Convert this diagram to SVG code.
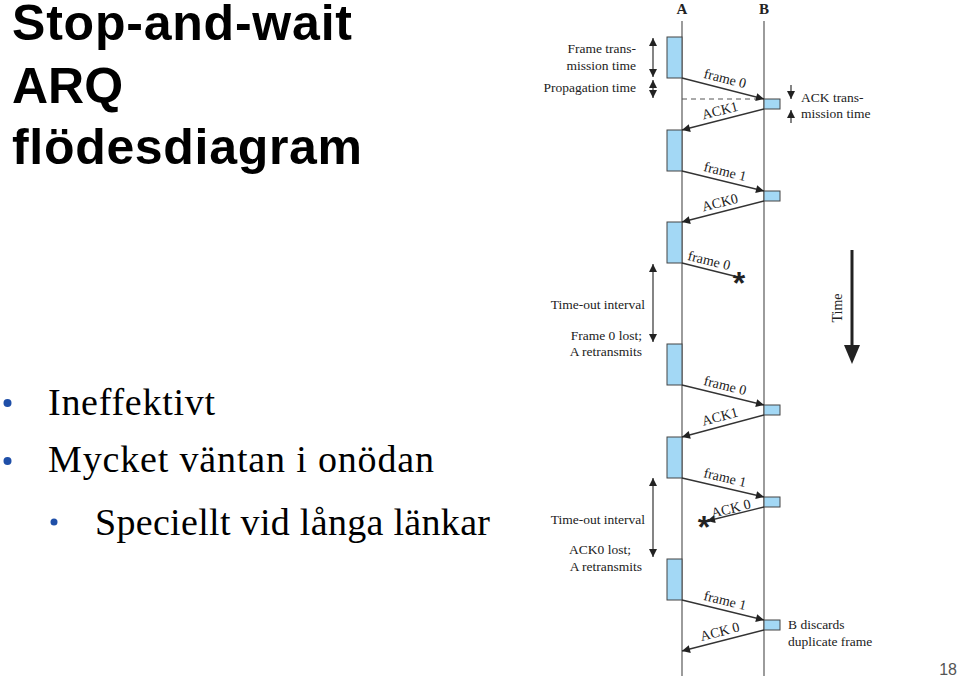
<svg xmlns="http://www.w3.org/2000/svg" width="960" height="678" viewBox="0 0 960 678">
<defs>
<style>
.title{font-family:"Liberation Sans",Arial,sans-serif;font-weight:bold;font-size:50px;fill:#000}
.bul{font-family:"Liberation Serif","Times New Roman",serif;font-size:38px;fill:#000}
.lbl{font-family:"Liberation Serif","Times New Roman",serif;font-size:13.5px;fill:#222}
.lblr{font-family:"Liberation Serif","Times New Roman",serif;font-size:13.5px;fill:#222;text-anchor:end}
.arl{font-family:"Liberation Serif","Times New Roman",serif;font-size:14px;fill:#222;text-anchor:middle}
.hdr{font-family:"Liberation Serif","Times New Roman",serif;font-size:15px;font-weight:bold;fill:#222;text-anchor:middle}
.life{stroke:#666;stroke-width:1.3;fill:none}
.box{fill:#a3d8f5;stroke:#444;stroke-width:1}
.msg{stroke:#333;stroke-width:1.3;fill:none;marker-end:url(#ah)}
.msgn{stroke:#333;stroke-width:1.3;fill:none}
.dim{stroke:#333;stroke-width:1.2;fill:none;marker-start:url(#sh);marker-end:url(#sh)}
.dim1{stroke:#333;stroke-width:1.2;fill:none;marker-end:url(#sh)}
.star{font-family:"Liberation Sans",Arial,sans-serif;font-size:32px;font-weight:bold;fill:#222;text-anchor:middle}
.dot{fill:#1f4fa8}
</style>
<marker id="ah" viewBox="0 0 10 10" refX="10" refY="5" markerWidth="10" markerHeight="8" markerUnits="userSpaceOnUse" orient="auto">
<path d="M0,0 L10,5 L0,10 z" fill="#222"/>
</marker>
<marker id="sh" viewBox="0 0 10 10" refX="10" refY="5" markerWidth="8" markerHeight="8" markerUnits="userSpaceOnUse" orient="auto-start-reverse">
<path d="M0,0 L10,5 L0,10 z" fill="#222"/>
</marker>
</defs>
<rect width="960" height="678" fill="#fff"/>

<g id="title">
<text class="title" x="12" y="40" textLength="340">Stop-and-wait</text>
<text class="title" x="12" y="103">ARQ</text>
<text class="title" x="12" y="164" textLength="350">flödesdiagram</text>
</g>

<g id="bullets">
<circle class="dot" cx="7.5" cy="403" r="4"/>
<text class="bul" x="48" y="415" textLength="167">Ineffektivt</text>
<circle class="dot" cx="7.5" cy="461" r="4"/>
<text class="bul" x="48" y="472" textLength="386">Mycket väntan i onödan</text>
<circle class="dot" cx="54" cy="522" r="3.5"/>
<text class="bul" x="95" y="535" textLength="395">Speciellt vid långa länkar</text>
</g>

<g id="pagenum">
<text x="957" y="675" text-anchor="end" font-family="'Liberation Sans',Arial,sans-serif" font-size="16" fill="#555">18</text>
</g>

<g id="lifelines">
<text class="hdr" x="682" y="14">A</text>
<text class="hdr" x="764" y="14">B</text>
<line class="life" x1="682" y1="21" x2="682" y2="676"/>
<line class="life" x1="764" y1="21" x2="764" y2="676"/>
</g>

<g id="boxesA">
<rect class="box" x="667" y="37" width="15" height="41"/>
<rect class="box" x="667" y="130" width="15" height="41"/>
<rect class="box" x="667" y="222" width="15" height="41"/>
<rect class="box" x="667" y="344" width="15" height="41"/>
<rect class="box" x="667" y="437" width="15" height="41"/>
<rect class="box" x="667" y="559" width="15" height="41"/>
</g>

<g id="boxesB">
<rect class="box" x="764" y="99" width="16" height="10"/>
<rect class="box" x="764" y="191" width="16" height="10"/>
<rect class="box" x="764" y="405" width="16" height="10"/>
<rect class="box" x="764" y="497" width="16" height="10"/>
<rect class="box" x="764" y="620" width="16" height="10"/>
</g>

<g id="connectors">
<line x1="682" y1="99" x2="764" y2="99" stroke="#555" stroke-width="1" stroke-dasharray="5,4"/>
<line class="msg" x1="682" y1="78" x2="764" y2="99"/>
<line class="msg" x1="764" y1="109" x2="682" y2="130"/>
<line class="msg" x1="682" y1="171" x2="764" y2="191"/>
<line class="msg" x1="764" y1="201" x2="682" y2="222"/>
<line class="msgn" x1="682" y1="263" x2="734" y2="276"/>
<line class="msg" x1="682" y1="385" x2="764" y2="405"/>
<line class="msg" x1="764" y1="415" x2="682" y2="437"/>
<line class="msg" x1="682" y1="478" x2="764" y2="497"/>
<line class="msg" x1="764" y1="507" x2="707" y2="521"/>
<line class="msg" x1="682" y1="600" x2="764" y2="620"/>
<line class="msg" x1="764" y1="630" x2="682" y2="651"/>
</g>

<g id="msglabels">
<text class="arl" transform="translate(724,83) rotate(14.4)">frame 0</text>
<text class="arl" transform="translate(721,115) rotate(-14.4)">ACK1</text>
<text class="arl" transform="translate(724,176) rotate(14)">frame 1</text>
<text class="arl" transform="translate(721,207) rotate(-14.4)">ACK0</text>
<text class="arl" transform="translate(708,265) rotate(14)">frame 0</text>
<text class="arl" transform="translate(724,390) rotate(14)">frame 0</text>
<text class="arl" transform="translate(721,421) rotate(-15)">ACK1</text>
<text class="arl" transform="translate(724,482) rotate(13.5)">frame 1</text>
<text class="arl" transform="translate(732,513) rotate(-14)">ACK 0</text>
<text class="arl" transform="translate(724,605) rotate(14)">frame 1</text>
<text class="arl" transform="translate(721,636) rotate(-14.4)">ACK 0</text>
<text class="star" x="739" y="294">*</text>
<text class="star" x="704" y="538">*</text>
</g>

<g id="annotations">
<line class="dim" x1="653" y1="38" x2="653" y2="77"/>
<line class="dim" x1="653" y1="80" x2="653" y2="98"/>
<text class="lblr" x="636" y="53">Frame trans-</text>
<text class="lblr" x="636" y="70">mission time</text>
<text class="lblr" x="636" y="92">Propagation time</text>
<line class="dim1" x1="791" y1="85" x2="791" y2="99"/>
<line class="dim1" x1="791" y1="123" x2="791" y2="110"/>
<text class="lbl" x="801" y="102">ACK trans-</text>
<text class="lbl" x="801" y="118">mission time</text>
<line class="dim" x1="653" y1="264" x2="653" y2="342"/>
<text class="lblr" x="645" y="309">Time-out interval</text>
<text class="lblr" x="642" y="340">Frame 0 lost;</text>
<text class="lblr" x="642" y="356">A retransmits</text>
<line class="dim" x1="653" y1="478" x2="653" y2="557"/>
<text class="lblr" x="645" y="524">Time-out interval</text>
<text class="lblr" x="631" y="554">ACK0 lost;</text>
<text class="lblr" x="642" y="571">A retransmits</text>
<text class="lbl" x="788" y="629">B discards</text>
<text class="lbl" x="788" y="646">duplicate frame</text>
</g>

<g id="timeaxis">
<line x1="852" y1="250" x2="852" y2="348" stroke="#222" stroke-width="3"/>
<path d="M844,345 L860,345 L852,364 z" fill="#222"/>
<text class="arl" transform="translate(842,308) rotate(-90)">Time</text>
</g>
</svg>
